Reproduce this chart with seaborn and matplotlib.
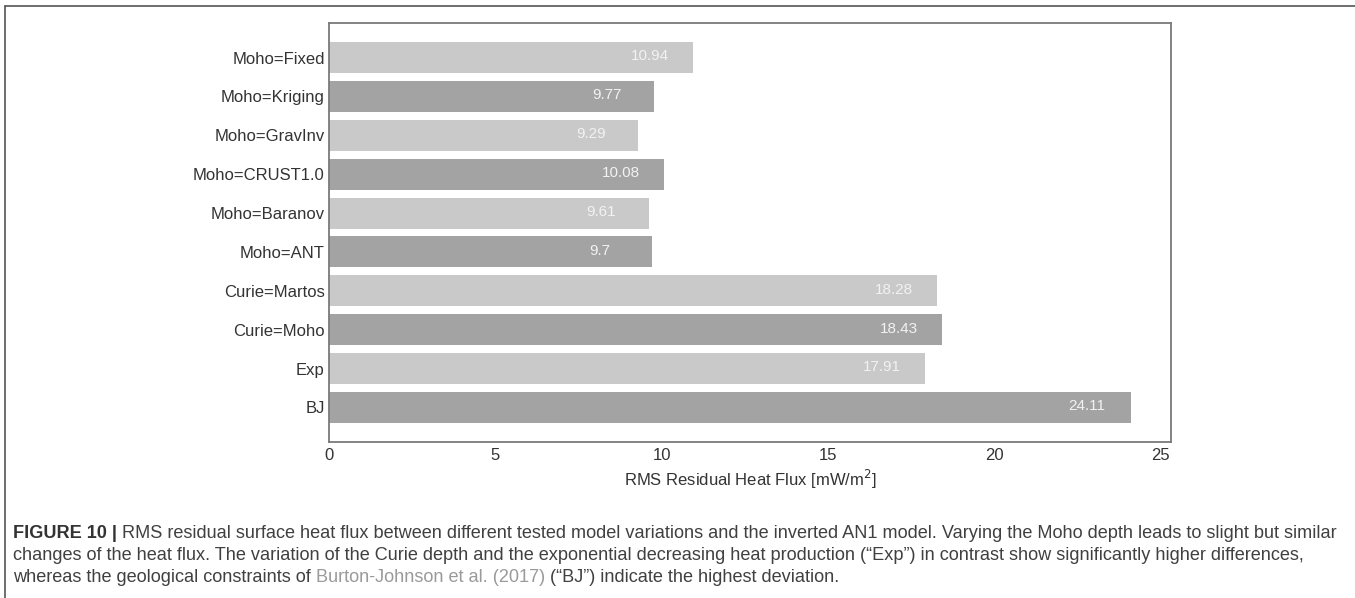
import matplotlib
matplotlib.use("Agg")
import matplotlib.pyplot as plt
import seaborn as sns
import pandas as pd
from matplotlib.lines import Line2D

# ---- data ----
categories = ["Moho=Fixed", "Moho=Kriging", "Moho=GravInv", "Moho=CRUST1.0",
              "Moho=Baranov", "Moho=ANT", "Curie=Martos", "Curie=Moho", "Exp", "BJ"]
rms_values = [10.94, 9.77, 9.29, 10.08, 9.61, 9.7, 18.28, 18.43, 17.91, 24.11]
x_ticks = [0, 5, 10, 15, 20, 25]
x_label = "RMS Residual Heat Flux [mW/m$^2$]"
caption_lines = [
    [("FIGURE 10 |", "#333333", "bold"),
     (" RMS residual surface heat flux between different tested model variations and the inverted AN1 model. Varying the Moho depth leads to slight but similar", "#404040", "normal")],
    [("changes of the heat flux. The variation of the Curie depth and the exponential decreasing heat production (\u201cExp\u201d) in contrast show significantly higher differences,", "#404040", "normal")],
    [("whereas the geological constraints of ", "#404040", "normal"),
     ("Burton-Johnson et al. (2017)", "#9a9a9a", "normal"),
     (" (\u201cBJ\u201d) indicate the highest deviation.", "#404040", "normal")],
]

LIGHT = "#c9c9c9"
DARK = "#a3a3a3"

sns.set_theme(style="white")
plt.rcParams["font.family"] = ["Liberation Sans", "DejaVu Sans"]

W, H = 1355, 598
fig = plt.figure(figsize=(W / 100, H / 100), dpi=100)
ax = fig.add_axes([329 / W, 1 - 442 / H, (1171 - 329) / W, (442 - 23) / H])

df = pd.DataFrame({"cat": categories, "val": rms_values})
palette = {c: (LIGHT if i % 2 == 0 else DARK) for i, c in enumerate(categories)}
sns.barplot(data=df, x="val", y="cat", hue="cat", palette=palette, legend=False,
            width=0.8, saturation=1, linewidth=0, ax=ax)

n = len(categories)
pad = 0.05 * (n - 1 + 0.8)
ax.set_ylim(n - 1 + 0.4 + pad, -0.4 - pad)
ax.set_xlim(0, max(rms_values) * 1.05)
ax.set_xticks(x_ticks)
ax.set_xticklabels([str(t) for t in x_ticks])

for i, v in enumerate(rms_values):
    ax.text(v - 1.87, i - 0.03, f"{v}", ha="left", va="center",
            fontsize=11, color="#f2f2f2")

ax.set_ylabel("")
ax.set_xlabel(x_label, fontsize=12, color="#333333", labelpad=4)
ax.tick_params(axis="both", length=0, labelsize=12, colors="#333333")
ax.tick_params(axis="y", pad=3)
ax.tick_params(axis="x", pad=4)
for s in ax.spines.values():
    s.set_color("#7a7a7a")
    s.set_linewidth(1.3)

# outer figure frame (top and left lines)
fig.add_artist(Line2D([5 / W, 1.0], [1 - 6 / H, 1 - 6 / H], transform=fig.transFigure,
                      color="#555555", linewidth=1.2))
fig.add_artist(Line2D([5 / W, 5 / W], [1 - 6 / H, 0.0], transform=fig.transFigure,
                      color="#555555", linewidth=1.2))

# caption
renderer = fig.canvas.get_renderer()


def line_width(segs, size):
    total = 0
    for txt, col, wt in segs:
        t = fig.text(0, 0, txt, fontsize=size, fontweight=wt)
        total += t.get_window_extent(renderer).width
        t.remove()
    return total


base = 12
w1 = line_width(caption_lines[0], base)
cap_size = base * (1332 / w1)

ys = [533, 555, 577]
for segs, yp in zip(caption_lines, ys):
    x = 13
    for txt, col, wt in segs:
        t = fig.text(x / W, 1 - yp / H, txt, fontsize=cap_size, fontweight=wt,
                     color=col, ha="left", va="center")
        x += t.get_window_extent(renderer).width

fig.savefig("out.png", dpi=100)
